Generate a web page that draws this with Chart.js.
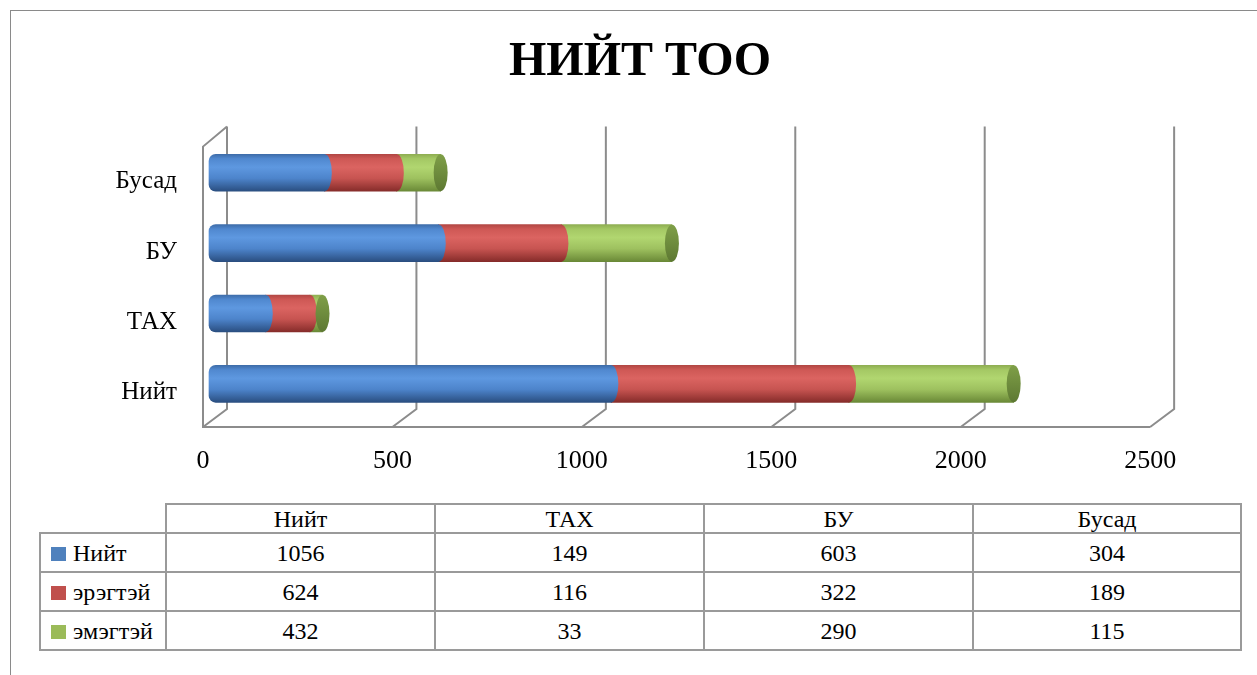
<!DOCTYPE html>
<html>
<head>
<meta charset="utf-8">
<script src="https://cdn.jsdelivr.net/npm/chart.js@4"></script>
<style>
  html, body { margin:0; padding:0; background:#fff; overflow:hidden; width:1257px; height:675px; }
  #frame { position:absolute; left:10px; top:10px; width:1400px; height:800px; border-left:1px solid #8a8a8a; border-top:1px solid #8a8a8a; }
  #wrap { position:absolute; left:0; top:0; width:1257px; height:490px; }
  table { position:absolute; left:39px; top:503px; border-collapse:collapse; table-layout:fixed;
          font-family:"Liberation Serif", serif; font-size:24px; color:#000; }
  td { border:2px solid #9a9a9a; text-align:center; padding:0; line-height:24px; }
  tr.head td { height:27px; }
  tr.row td { height:37px; }
  td.corner { border-top:none; border-left:none; }
  td.leg { text-align:left; padding-left:10px; white-space:nowrap; }
  .sw { display:inline-block; width:15px; height:14px; margin-right:7px; vertical-align:0px; }
</style>
</head>
<body>
<div id="frame"></div>
<div id="wrap"><canvas id="c"></canvas></div>
<table id="tbl"></table>
<script>
// ---- data ----
const categories = ['Нийт', 'ТАХ', 'БУ', 'Бусад'];
const seriesNames = ['Нийт', 'эрэгтэй', 'эмэгтэй'];
const niitValues = [1056, 149, 603, 304];
const eregteiValues = [624, 116, 322, 189];
const emegteiValues = [432, 33, 290, 115];
const xTickValues = [0, 500, 1000, 1500, 2000, 2500];
const xTickLabels = ['0', '500', '1000', '1500', '2000', '2500'];
const chartTitle = 'НИЙТ ТОО';

// ---- styles ----
const legendColors = ['#4F81BD', '#C0504D', '#9BBB59'];
const gradStops = [
  [[0, '#3E6DAA'], [0.12, '#5088CF'], [0.35, '#5E98E0'], [0.65, '#4D84CB'], [1, '#2A4E80']],
  [[0, '#B24744'], [0.12, '#CE5855'], [0.35, '#DB6461'], [0.65, '#C75451'], [1, '#862C2A']],
  [[0, '#8FAE52'], [0.12, '#A4C864'], [0.35, '#B1D670'], [0.65, '#9EC15F'], [1, '#6A8937']]
];
const capStops = [[0, '#7F9F48'], [0.5, '#6E8C3D'], [1, '#5D7832']];
const BAR_T = 37;

function makeGrad(ctx, cy, stops) {
  const g = ctx.createLinearGradient(0, cy - BAR_T / 2, 0, cy + BAR_T / 2);
  stops.forEach(s => g.addColorStop(s[0], s[1]));
  return g;
}
function bg(i) {
  return (c) => {
    const ys = c.chart.scales && c.chart.scales.y;
    if (!ys || c.dataIndex === undefined) return legendColors[i];
    const cy = ys.getPixelForValue(c.dataIndex);
    if (!isFinite(cy)) return legendColors[i];
    return makeGrad(c.chart.ctx, cy, gradStops[i]);
  };
}

const allSeries = [niitValues, eregteiValues, emegteiValues];

const wallPlugin = {
  id: 'wall',
  beforeDatasetsDraw(chart) {
    const ctx = chart.ctx, ca = chart.chartArea, x2 = chart.scales.x2;
    const dx = 24, top = ca.top - 11, floor = ca.bottom + 8, backBottom = floor - 18;
    ctx.save();
    ctx.strokeStyle = '#8c8c8c';
    ctx.lineWidth = 2;
    ctx.beginPath();
    xTickValues.forEach(v => {
      const px = x2.getPixelForValue(v);
      ctx.moveTo(px + dx, top);
      ctx.lineTo(px + dx, backBottom);
      ctx.lineTo(px, floor);
    });
    const x0 = x2.getPixelForValue(xTickValues[0]);
    const xN = x2.getPixelForValue(xTickValues[xTickValues.length - 1]);
    ctx.moveTo(x0 + dx, top);
    ctx.lineTo(x0, top + 20);
    ctx.lineTo(x0, floor);
    ctx.lineTo(xN, floor);
    ctx.stroke();
    ctx.restore();
  }
};

const capPlugin = {
  id: 'caps',
  afterDatasetsDraw(chart) {
    const ctx = chart.ctx;
    const last = chart.data.datasets.length - 1;
    const rx = 7;
    ctx.save();
    chart.data.datasets.forEach((ds, di) => {
      const meta = chart.getDatasetMeta(di);
      meta.data.forEach((el) => {
        const p = el.getProps(['x', 'y', 'base', 'height'], true);
        ctx.beginPath();
        ctx.ellipse(p.x, p.y, rx, p.height / 2, 0, 0, Math.PI * 2);
        ctx.fillStyle = di === last ? makeGrad(ctx, p.y, capStops) : makeGrad(ctx, p.y, gradStops[di]);
        ctx.fill();
      });
    });
    ctx.restore();
  }
};

Chart.defaults.font.family = '"Liberation Serif", serif';
Chart.defaults.color = '#000';

new Chart(document.getElementById('c'), {
  type: 'bar',
  data: {
    labels: categories,
    datasets: allSeries.map((vals, i) => ({
      label: seriesNames[i],
      data: vals,
      backgroundColor: bg(i),
      borderWidth: 0,
      barThickness: BAR_T,
      borderSkipped: i === 0 ? false : 'start',
      borderRadius: i === 0 ? { topLeft: 7, bottomLeft: 7, topRight: 0, bottomRight: 0 } : 0,
      stack: 's'
    }))
  },
  options: {
    indexAxis: 'y',
    responsive: true,
    maintainAspectRatio: false,
    animation: false,
    layout: { padding: { left: 23, right: 0, top: 0, bottom: 0 } },
    plugins: {
      legend: { display: false },
      tooltip: { enabled: false },
      title: {
        display: true,
        text: chartTitle,
        font: { size: 48, weight: 'bold', family: '"Liberation Serif", serif' },
        color: '#000',
        padding: { top: 34, bottom: 46 }
      }
    },
    scales: {
      x: {
        display: false,
        stacked: true,
        min: -15.75,
        max: 2532.8
      },
      x2: {
        type: 'linear',
        position: 'bottom',
        min: 0,
        max: 2563,
        grid: { display: false, drawTicks: false },
        border: { display: false },
        afterBuildTicks: (s) => { s.ticks = xTickValues.map(v => ({ value: v })); },
        afterFit: (s) => { s.height = 71; },
        ticks: {
          padding: 27,
          font: { size: 26 },
          color: '#000',
          autoSkip: false,
          maxRotation: 0,
          callback: (v) => { const i = xTickValues.indexOf(v); return i >= 0 ? xTickLabels[i] : ''; }
        }
      },
      y: {
        stacked: true,
        reverse: true,
        grid: { display: false, drawTicks: false },
        border: { display: false },
        afterFit: (s) => { s.width = 180; },
        ticks: { padding: 26, labelOffset: 9, font: { size: 25 }, color: '#000' }
      },
      yR: {
        type: 'linear',
        position: 'right',
        display: true,
        grid: { display: false, drawTicks: false },
        border: { display: false },
        ticks: { display: false },
        afterFit: (s) => { s.width = 83; }
      }
    }
  },
  plugins: [wallPlugin, capPlugin]
});

// ---- data table ----
const tbl = document.getElementById('tbl');
const colW = [126, 269, 269, 269, 268];
let html = '<colgroup>' + colW.map(w => '<col style="width:' + w + 'px">').join('') + '</colgroup>';
html += '<tr class="head"><td class="corner"></td>' + categories.map(c => '<td>' + c + '</td>').join('') + '</tr>';
allSeries.forEach((vals, i) => {
  html += '<tr class="row"><td class="leg"><span class="sw" style="background:' + legendColors[i] + '"></span>' + seriesNames[i] + '</td>' +
    vals.map(v => '<td>' + v + '</td>').join('') + '</tr>';
});
tbl.innerHTML = html;
</script>
</body>
</html>
